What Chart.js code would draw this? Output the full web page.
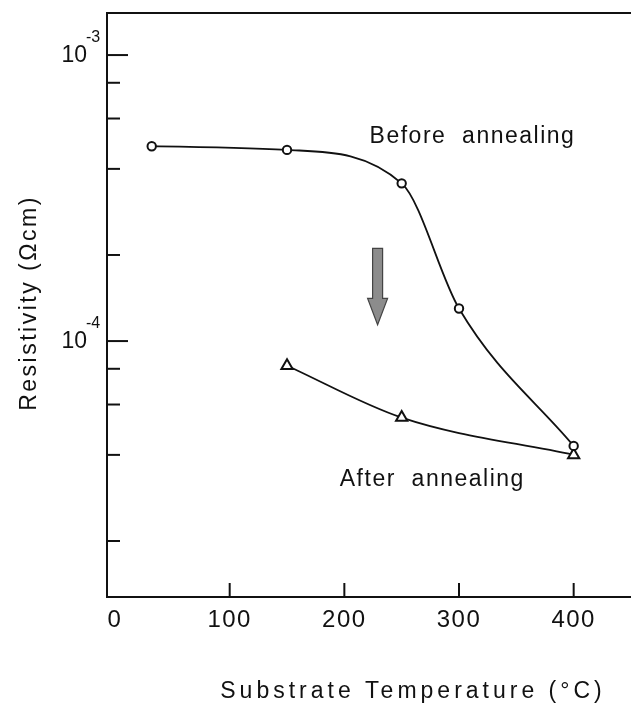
<!DOCTYPE html>
<html><head><meta charset="utf-8">
<script src="https://cdn.jsdelivr.net/npm/chart.js@4/dist/chart.umd.min.js"></script>
<style>html,body{margin:0;padding:0;background:#fff}#wrap{width:631px;height:711px;position:relative}canvas{display:block}</style>
</head><body><div id="wrap"><canvas id="c" width="631" height="711" style="width:631px;height:711px"></canvas></div>
<script>
// ---- data ----
const beforeTemps = [32, 150, 250, 300, 400];
const beforeRes   = [4.8e-4, 4.66e-4, 3.56e-4, 1.30e-4, 4.3e-5];
const afterTemps  = [150, 250, 400];
const afterRes    = [8.2e-5, 5.4e-5, 4.0e-5];
const seriesLabels = ['Before  annealing', 'After  annealing'];
const xTickValues = [0, 100, 200, 300, 400];
const xTickLabels = ['0', '100', '200', '300', '400'];
const yMajorTicks = [1e-3, 1e-4];
const yMajorExponents = ['-3', '-4'];
const yMinorTicks = [8e-4, 6e-4, 4e-4, 2e-4, 8e-5, 6e-5, 4e-5, 2e-5];
const xTitle = 'Substrate Temperature (°C)';
const yTitle = 'Resistivity (Ωcm)';
// arrow (data coords): x, top, neck, tip
const arrowX = 229, arrowTop = 2.11e-4, arrowNeck = 1.41e-4, arrowTip = 1.14e-4;
// series label anchors (data coords)
const labelBefore = {x: 222, y: 5.17e-4};
const labelAfter  = {x: 196, y: 3.27e-5};

const FONT = '"Liberation Sans", Arial, sans-serif';
const INK = '#111';

const decor = {
  id: 'decor',
  afterDraw(chart) {
    const ctx = chart.ctx, a = chart.chartArea;
    const xs = chart.scales.x, ys = chart.scales.y;
    ctx.save();
    ctx.strokeStyle = INK; ctx.fillStyle = INK; ctx.lineWidth = 2;
    // inward x ticks
    xTickValues.forEach(v => {
      if (v === 0) return;
      const px = xs.getPixelForValue(v);
      ctx.beginPath(); ctx.moveTo(px, a.bottom); ctx.lineTo(px, a.bottom - 14); ctx.stroke();
    });
    // inward y ticks
    yMajorTicks.forEach(v => {
      const py = ys.getPixelForValue(v);
      ctx.beginPath(); ctx.moveTo(a.left, py); ctx.lineTo(a.left + 21, py); ctx.stroke();
    });
    yMinorTicks.forEach(v => {
      const py = ys.getPixelForValue(v);
      ctx.beginPath(); ctx.moveTo(a.left, py); ctx.lineTo(a.left + 13, py); ctx.stroke();
    });
    // x tick labels
    ctx.font = '24px ' + FONT; ctx.textAlign = 'center'; ctx.textBaseline = 'middle';
    ctx.letterSpacing = '1.5px';
    xTickValues.forEach((v, i) => {
      ctx.fillText(xTickLabels[i], xs.getPixelForValue(v), a.bottom + 23);
    });
    // y tick labels 10^n
    yMajorTicks.forEach((v, i) => {
      const py = ys.getPixelForValue(v);
      ctx.letterSpacing = '0px';
      ctx.font = '23px ' + FONT; ctx.textAlign = 'right'; ctx.textBaseline = 'middle';
      ctx.fillText('10', a.left - 20, py + 1);
      ctx.font = '16px ' + FONT; ctx.textAlign = 'left'; ctx.textBaseline = 'middle';
      ctx.fillText(yMajorExponents[i], a.left - 21, py - 17);
    });
    // series labels
    ctx.font = '23px ' + FONT; ctx.textAlign = 'left'; ctx.textBaseline = 'middle';
    ctx.letterSpacing = '1.5px';
    ctx.fillText(seriesLabels[0], xs.getPixelForValue(labelBefore.x), ys.getPixelForValue(labelBefore.y));
    ctx.fillText(seriesLabels[1], xs.getPixelForValue(labelAfter.x), ys.getPixelForValue(labelAfter.y));
    // axis titles
    ctx.font = '23px ' + FONT; ctx.textAlign = 'center';
    ctx.letterSpacing = '4px';
    ctx.fillText(xTitle, 413, 692);
    ctx.save();
    ctx.translate(30, 303); ctx.rotate(-Math.PI / 2);
    ctx.letterSpacing = '2.5px';
    ctx.fillText(yTitle, 0, 0);
    ctx.restore();
    // gray arrow
    const ax = xs.getPixelForValue(arrowX);
    const yt = ys.getPixelForValue(arrowTop), yn = ys.getPixelForValue(arrowNeck), yp = ys.getPixelForValue(arrowTip);
    ctx.beginPath();
    ctx.moveTo(ax - 5, yt); ctx.lineTo(ax + 5, yt); ctx.lineTo(ax + 5, yn);
    ctx.lineTo(ax + 10, yn); ctx.lineTo(ax, yp); ctx.lineTo(ax - 10, yn);
    ctx.lineTo(ax - 5, yn); ctx.closePath();
    ctx.fillStyle = '#8c8c8c'; ctx.fill();
    ctx.lineWidth = 1.2; ctx.strokeStyle = '#444'; ctx.stroke();
    ctx.restore();
  }
};

const xMin = -7, xMax = 450, yMin = 1.274e-5, yMax = 1.403e-3;

new Chart(document.getElementById('c'), {
  type: 'scatter',
  data: {
    datasets: [
      {
        label: seriesLabels[0],
        data: beforeTemps.map((t, i) => ({x: t, y: beforeRes[i]})),
        showLine: true, cubicInterpolationMode: 'monotone',
        borderColor: INK, borderWidth: 1.8,
        pointStyle: 'circle', pointRadius: 4.2, pointBorderWidth: 2,
        pointBackgroundColor: '#fff', pointBorderColor: INK
      },
      {
        label: seriesLabels[1],
        data: afterTemps.map((t, i) => ({x: t, y: afterRes[i]})),
        showLine: true, cubicInterpolationMode: 'monotone',
        borderColor: INK, borderWidth: 1.8,
        pointStyle: 'triangle', pointRadius: 6.5, pointBorderWidth: 2,
        pointBackgroundColor: '#fff', pointBorderColor: INK
      }
    ]
  },
  options: {
    responsive: false, maintainAspectRatio: false, animation: false, devicePixelRatio: 1,
    layout: {padding: 0, autoPadding: false},
    plugins: {legend: {display: false}, tooltip: {enabled: false}},
    scales: {
      x: {
        type: 'linear', position: 'bottom', min: xMin, max: xMax,
        grid: {display: false}, ticks: {display: false},
        border: {display: true, color: INK, width: 2},
        afterFit(s) { s.height = 114; }
      },
      x2: {
        type: 'linear', position: 'top', min: xMin, max: xMax,
        grid: {display: false}, ticks: {display: false},
        border: {display: true, color: INK, width: 2},
        afterFit(s) { s.height = 13; }
      },
      y: {
        type: 'logarithmic', position: 'left', min: yMin, max: yMax,
        grid: {display: false}, ticks: {display: false},
        border: {display: true, color: INK, width: 2},
        afterFit(s) { s.width = 107; }
      }
    }
  },
  plugins: [decor]
});
</script>
</body></html>
